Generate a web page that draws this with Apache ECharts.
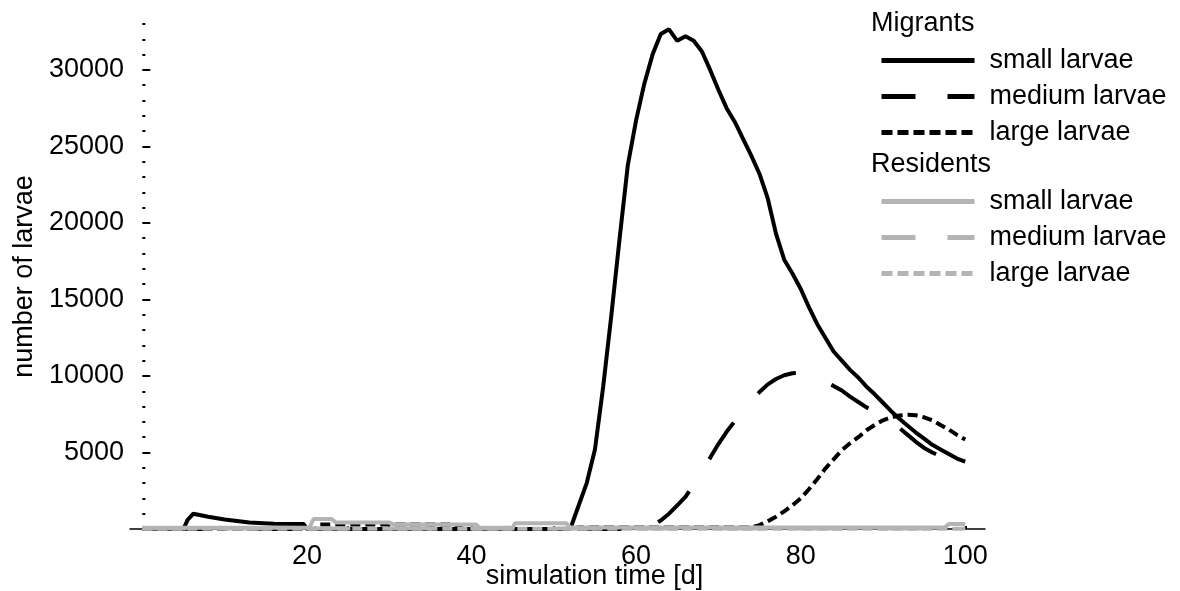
<!DOCTYPE html>
<html>
<head>
<meta charset="utf-8">
<script src="https://cdn.jsdelivr.net/npm/echarts@6/dist/echarts.min.js"></script>
<style>
  html, body { margin: 0; padding: 0; background: #fff; }
  #chart { width: 1180px; height: 591px; }
</style>
</head>
<body>
<div id="chart"></div>
<script>
"use strict";
// [day, number of larvae]
var migSmall = [[0,0],[5,0],[5.5,600],[6.2,1000],[8,800],[10,620],[13,420],[16,350],[19.6,330],[20,0],
  [52,0],[53,1500],[54,3000],[55,5200],[56,9300],[57,14000],[58,19000],[59,23800],[60,26700],[61,29100],
  [62,31000],[63,32350],[64,32650],[65,31900],[66,32200],[67,31900],[68,31200],[69,30000],[70,28700],
  [71,27500],[72,26600],[73,25500],[74,24400],[75,23200],[76,21600],[77,19300],[78,17600],[79,16700],
  [80,15700],[81,14500],[82,13400],[83,12500],[84,11600],[85,11000],[86,10400],[87,9900],[88,9300],
  [89,8800],[90,8250],[91,7700],[92,7200],[93,6750],[94,6300],[95,5900],[96,5500],[97,5200],[98,4900],
  [99,4600],[100,4400]];
var migMedium = [[0,0],[60,0],[61,80],[62,250],[63,550],[64,1000],[65,1550],[66,2100],[67,2900],[68,3800],
  [69,4650],[70,5550],[71,6350],[72,7050],[73,7700],[74,8350],[75,8950],[76,9450],[77,9800],[78,10050],
  [79,10180],[80,10200],[81,10100],[82,9900],[83,9600],[84,9350],[85,9050],[86,8650],[87,8300],[88,7950],
  [89,7650],[90,7350],[91,7000],[92,6600],[93,6150],[94,5700],[95,5300],[96,5000],[97,4750],[98,4450],
  [99,4200],[100,3950]];
var migLarge = [[0,0],[21,0],[21.5,300],[38,300],[39,0],[52,0],[53,100],[74,100],[75,250],[76,500],
  [77,800],[78,1150],[79,1550],[80,2000],[81,2600],[82,3250],[83,3950],[84,4550],[85,5150],[86,5600],
  [87,6000],[88,6450],[89,6800],[90,7100],[91,7300],[92,7420],[93,7470],[94,7430],[95,7300],[96,7100],
  [97,6800],[98,6500],[99,6150],[100,5850]];
var resSmall = [[0,80],[20.3,80],[20.8,650],[23,650],[23.5,420],[30,420],[30.5,300],[40.5,300],[41,80],
  [45,80],[45.3,380],[51.5,380],[52,100],[97.5,100],[98,330],[100,330]];
var resMedium = [[0,40],[100,40]];
var resLarge = [[0,20],[100,20]];

var xLabels = [20, 40, 60, 80, 100];
var xTicks = [5,10,15,20,25,30,35,40,45,50,55,60,65,70,75,80,85,90,95,100];
var yLabels = [5000, 10000, 15000, 20000, 25000, 30000];

var FONT = "'Liberation Sans', Arial, sans-serif";
var FS = 27;
var GREY = '#b4b4b4';
var DASH_MED = [44, 38];
var DASH_LRG = [10, 5];

function mkSeries(name, data, color, type, offset) {
    return {
        name: name,
        type: 'line',
        data: data,
        symbol: 'none',
        showSymbol: false,
        lineStyle: { color: color, width: 4, type: type, dashOffset: offset || 0 },
        itemStyle: { color: color }
    };
}

var myChart = echarts.init(document.getElementById('chart'));
var legendText = {
    fontFamily: FONT, fontSize: FS, color: '#000', lineHeight: 26, padding: [0, 0, 0, 10]
};
var titleText = { fontFamily: FONT, fontSize: FS, fontWeight: 'normal', color: '#000' };
var option = {
    animation: false,
    backgroundColor: '#fff',
    title: [
        { text: 'Migrants', left: 871, top: 10, padding: 0, textStyle: titleText },
        { text: 'Residents', left: 871, top: 151, padding: 0, textStyle: titleText }
    ],
    legend: [
        {
            orient: 'vertical', left: 879, top: 47, padding: 0,
            itemWidth: 93, itemHeight: 14, itemGap: 9, selectedMode: false,
            itemStyle: { opacity: 0 },
            textStyle: legendText,
            formatter: function (n) { return n.replace('M ', ''); },
            data: [
                { name: 'M small larvae', lineStyle: { width: 5 } },
                { name: 'M medium larvae', lineStyle: { width: 5, type: [34, 32], dashOffset: 0 } },
                { name: 'M large larvae', lineStyle: { width: 5, type: [11, 5], dashOffset: 0 } }
            ]
        },
        {
            orient: 'vertical', left: 879, top: 188, padding: 0,
            itemWidth: 93, itemHeight: 14, itemGap: 9, selectedMode: false,
            itemStyle: { opacity: 0 },
            textStyle: legendText,
            formatter: function (n) { return n.replace('R ', ''); },
            data: [
                { name: 'R small larvae', lineStyle: { width: 5 } },
                { name: 'R medium larvae', lineStyle: { width: 5, type: [34, 32], dashOffset: 0 } },
                { name: 'R large larvae', lineStyle: { width: 5, type: [11, 5], dashOffset: 0 } }
            ]
        }
    ],
    grid: { left: 130, right: 195, top: 24, bottom: 62, containLabel: false, outerBoundsMode: 'none' },
    xAxis: {
        type: 'value', min: -1.5, max: 102.4,
        name: 'simulation time [d]', nameLocation: 'middle', nameGap: 34, nameMoveOverlap: false,
        nameTextStyle: { fontFamily: FONT, fontSize: FS, color: '#000', padding: [0, 0, 0, 74] },
        axisLine: { show: true, onZero: false, lineStyle: { color: '#000', width: 1.5 } },
        axisTick: { show: true, inside: true, length: 3, customValues: xTicks,
                    lineStyle: { color: '#000', width: 2 } },
        axisLabel: { customValues: xLabels, margin: 14, fontFamily: FONT, fontSize: FS, color: '#000' },
        splitLine: { show: false }
    },
    yAxis: [
        {
            type: 'value', min: 0, max: 33000,
            name: 'number of larvae', nameLocation: 'middle', nameGap: 92,
            nameTextStyle: { fontFamily: FONT, fontSize: FS, color: '#000' },
            axisLine: { show: false, onZero: true, onZeroAxisIndex: 0 },
            axisTick: { show: true, inside: true, length: 8, customValues: yLabels,
                        lineStyle: { color: '#000', width: 2 } },
            axisLabel: { customValues: yLabels, margin: 6, fontFamily: FONT, fontSize: FS, color: '#000',
                         formatter: function (v) { return String(v); } },
            splitLine: { show: false }
        },
        {
            // minor tick dots every 1000
            type: 'value', min: 0, max: 33000, interval: 1000, position: 'left',
            axisLine: { show: false, onZero: true, onZeroAxisIndex: 0 },
            axisTick: { show: true, inside: true, length: 3, lineStyle: { color: '#000', width: 2 } },
            axisLabel: { show: false },
            splitLine: { show: false }
        }
    ],
    series: [
        mkSeries('M small larvae', migSmall, '#000', 'solid'),
        mkSeries('M medium larvae', migMedium, '#000', DASH_MED, 57),
        mkSeries('M large larvae', migLarge, '#000', DASH_LRG),
        mkSeries('R small larvae', resSmall, GREY, 'solid'),
        mkSeries('R medium larvae', resMedium, GREY, DASH_MED),
        mkSeries('R large larvae', resLarge, GREY, DASH_LRG)
    ]
};
myChart.setOption(option);

window.onresize = function () {
    myChart.resize();
};
</script>
</body>
</html>
